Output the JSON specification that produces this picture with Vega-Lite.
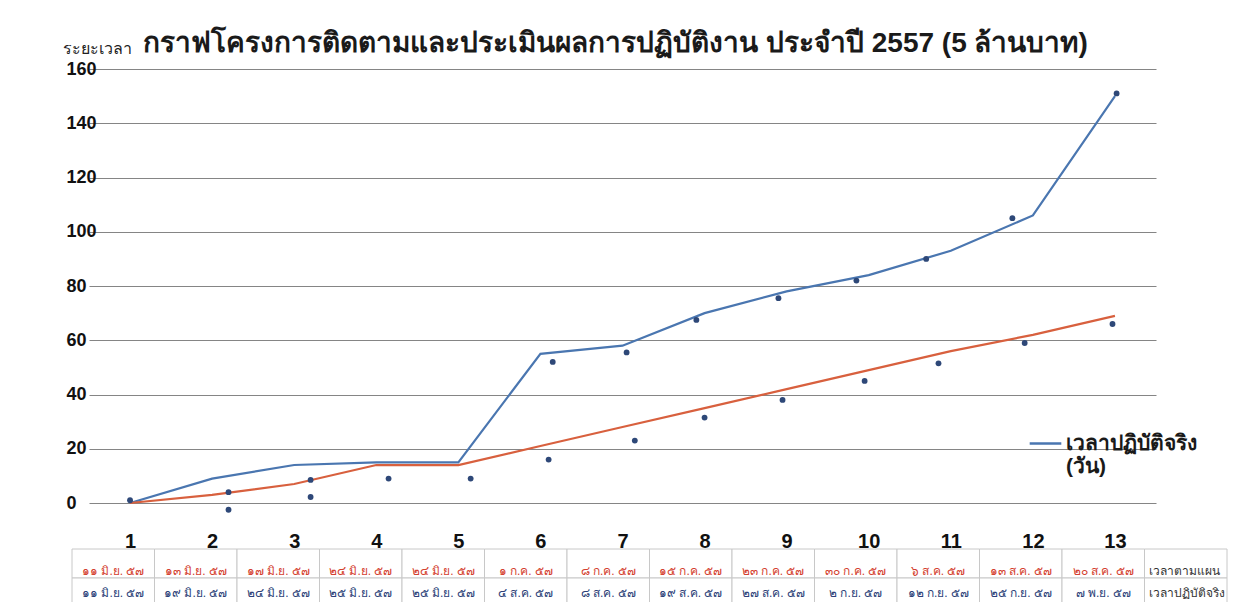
{
  "$schema": "https://vega.github.io/schema/vega-lite/v6.json",
  "padding": {"left": 62, "top": 30, "right": 0, "bottom": 0},
  "background": "white",
  "bounds": "flush",
  "spacing": 46,
  "config": {"view": {"stroke": null}, "font": "Liberation Sans"},
  "resolve": {"scale": {"color": "independent"}, "legend": {"color": "independent"}},
  "datasets": {
    "lines": [
      {"n": 1, "plan": 0, "actual": 0, "series": "เวลาปฏิบัติจริง"},
      {"n": 2, "plan": 3, "actual": 9, "series": "เวลาปฏิบัติจริง"},
      {"n": 3, "plan": 7, "actual": 14, "series": "เวลาปฏิบัติจริง"},
      {"n": 4, "plan": 14, "actual": 15, "series": "เวลาปฏิบัติจริง"},
      {"n": 5, "plan": 14, "actual": 15, "series": "เวลาปฏิบัติจริง"},
      {"n": 6, "plan": 21, "actual": 55, "series": "เวลาปฏิบัติจริง"},
      {"n": 7, "plan": 28, "actual": 58, "series": "เวลาปฏิบัติจริง"},
      {"n": 8, "plan": 35, "actual": 70, "series": "เวลาปฏิบัติจริง"},
      {"n": 9, "plan": 42, "actual": 78, "series": "เวลาปฏิบัติจริง"},
      {"n": 10, "plan": 49, "actual": 84, "series": "เวลาปฏิบัติจริง"},
      {"n": 11, "plan": 56, "actual": 93, "series": "เวลาปฏิบัติจริง"},
      {"n": 12, "plan": 62, "actual": 106, "series": "เวลาปฏิบัติจริง"},
      {"n": 13, "plan": 69, "actual": 150, "series": "เวลาปฏิบัติจริง"}
    ],
    "dots": [
      {"n": 1.0, "v": 1},
      {"n": 2.2, "v": 4}, {"n": 2.2, "v": -2.5},
      {"n": 3.2, "v": 8.5}, {"n": 3.2, "v": 2.2},
      {"n": 4.15, "v": 9},
      {"n": 5.15, "v": 9},
      {"n": 6.15, "v": 52}, {"n": 6.1, "v": 16},
      {"n": 7.05, "v": 55.5}, {"n": 7.15, "v": 23},
      {"n": 7.9, "v": 67.5}, {"n": 8.0, "v": 31.5},
      {"n": 8.9, "v": 75.5}, {"n": 8.95, "v": 38},
      {"n": 9.85, "v": 82}, {"n": 9.95, "v": 45},
      {"n": 10.7, "v": 90}, {"n": 10.85, "v": 51.5},
      {"n": 11.75, "v": 105}, {"n": 11.9, "v": 59},
      {"n": 13.02, "v": 151}, {"n": 12.97, "v": 66}
    ],
    "table": [
      {"col": 1, "row": "plan", "label": "๑๑ มิ.ย. ๕๗"},
      {"col": 2, "row": "plan", "label": "๑๓ มิ.ย. ๕๗"},
      {"col": 3, "row": "plan", "label": "๑๗ มิ.ย. ๕๗"},
      {"col": 4, "row": "plan", "label": "๒๔ มิ.ย. ๕๗"},
      {"col": 5, "row": "plan", "label": "๒๔ มิ.ย. ๕๗"},
      {"col": 6, "row": "plan", "label": "๑ ก.ค. ๕๗"},
      {"col": 7, "row": "plan", "label": "๘ ก.ค. ๕๗"},
      {"col": 8, "row": "plan", "label": "๑๕ ก.ค. ๕๗"},
      {"col": 9, "row": "plan", "label": "๒๓ ก.ค. ๕๗"},
      {"col": 10, "row": "plan", "label": "๓๐ ก.ค. ๕๗"},
      {"col": 11, "row": "plan", "label": "๖ ส.ค. ๕๗"},
      {"col": 12, "row": "plan", "label": "๑๓ ส.ค. ๕๗"},
      {"col": 13, "row": "plan", "label": "๒๐ ส.ค. ๕๗"},
      {"col": 14, "row": "plan", "label": "เวลาตามแผน"},
      {"col": 1, "row": "actual", "label": "๑๑ มิ.ย. ๕๗"},
      {"col": 2, "row": "actual", "label": "๑๙ มิ.ย. ๕๗"},
      {"col": 3, "row": "actual", "label": "๒๔ มิ.ย. ๕๗"},
      {"col": 4, "row": "actual", "label": "๒๕ มิ.ย. ๕๗"},
      {"col": 5, "row": "actual", "label": "๒๕ มิ.ย. ๕๗"},
      {"col": 6, "row": "actual", "label": "๔ ส.ค. ๕๗"},
      {"col": 7, "row": "actual", "label": "๘ ส.ค. ๕๗"},
      {"col": 8, "row": "actual", "label": "๑๙ ส.ค. ๕๗"},
      {"col": 9, "row": "actual", "label": "๒๗ ส.ค. ๕๗"},
      {"col": 10, "row": "actual", "label": "๒ ก.ย. ๕๗"},
      {"col": 11, "row": "actual", "label": "๑๒ ก.ย. ๕๗"},
      {"col": 12, "row": "actual", "label": "๒๕ ก.ย. ๕๗"},
      {"col": 13, "row": "actual", "label": "๗ พ.ย. ๕๗"},
      {"col": 14, "row": "actual", "label": "เวลาปฏิบัติจริง"}
    ]
  },
  "vconcat": [
    {
      "width": 1067,
      "height": 434,
      "title": {
        "text": "กราฟโครงการติดตามและประเมินผลการปฏิบัติงาน ประจำปี 2557 (5 ล้านบาท)",
        "frame": "group",
        "anchor": "middle",
        "dx": -7,
        "dy": 54,
        "baseline": "alphabetic",
        "offset": 14,
        "fontSize": 28,
        "fontWeight": "bold",
        "color": "#1a1a1a"
      },
      "layer": [
        {
          "data": {"name": "lines"},
          "mark": {"type": "line", "strokeWidth": 2.2},
          "encoding": {
            "x": {
              "field": "n", "type": "quantitative",
              "scale": {"domain": [0.5, 13.5], "nice": false, "zero": false},
              "axis": {
                "values": [1, 2, 3, 4, 5, 6, 7, 8, 9, 10, 11, 12, 13],
                "format": "d",
                "title": null, "grid": false, "domain": false, "ticks": false,
                "labelPadding": 28, "labelFontSize": 20, "labelFontWeight": "bold",
                "labelColor": "#111", "labelBaseline": "top"
              }
            },
            "y": {
              "field": "actual", "type": "quantitative",
              "scale": {"domain": [0, 160], "nice": false},
              "axis": {
                "values": [0, 20, 40, 60, 80, 100, 120, 140, 160],
                "grid": true, "gridColor": "#858585", "gridWidth": 1,
                "domain": false, "ticks": false,
                "labelAlign": "left", "labelPadding": 23, "labelFontSize": 18,
                "labelFontWeight": "bold", "labelColor": "#111",
                "title": "ระยะเวลา", "titleAngle": 0, "titleAlign": "left",
                "titleBaseline": "alphabetic", "titleX": -27, "titleY": -16,
                "titleFontSize": 16, "titleFontWeight": "normal", "titleColor": "#222"
              }
            },
            "color": {
              "field": "series", "type": "nominal",
              "scale": {"range": ["#4a76b0"]},
              "legend": {
                "orient": "none", "legendX": 939, "legendY": 357,
                "title": null, "symbolType": "stroke", "symbolSize": 1000,
                "symbolStrokeWidth": 2.5, "labelFontSize": 21, "labelFontWeight": "bold",
                "labelColor": "#1a1a1a", "labelLimit": 0, "padding": 0, "labelOffset": 3,
                "labelBaseline": "middle",
                "labelExpr": "['เวลาปฏิบัติจริง', '(วัน)']"
              }
            }
          }
        },
        {
          "data": {"name": "lines"},
          "mark": {"type": "line", "strokeWidth": 2.2, "color": "#d8603e"},
          "encoding": {
            "x": {"field": "n", "type": "quantitative"},
            "y": {"field": "plan", "type": "quantitative"}
          }
        },
        {
          "data": {"name": "dots"},
          "mark": {"type": "circle", "size": 34, "color": "#2e4878", "opacity": 1},
          "encoding": {
            "x": {"field": "n", "type": "quantitative"},
            "y": {"field": "v", "type": "quantitative"}
          }
        }
      ]
    },
    {
      "width": 1067,
      "height": 58,
      "data": {"name": "table"},
      "encoding": {
        "x": {
          "field": "col", "type": "ordinal",
          "scale": {"range": [-17, 1138], "paddingInner": 0, "paddingOuter": 0},
          "axis": null
        },
        "y": {
          "field": "row", "type": "nominal",
          "scale": {"domain": ["plan", "actual"], "paddingInner": 0, "paddingOuter": 0},
          "axis": null
        }
      },
      "layer": [
        {"mark": {"type": "rect", "fill": "white", "stroke": "#c8c8c8", "strokeWidth": 1}},
        {
          "transform": [{"filter": "datum.col <= 13 && datum.row == 'plan'"}],
          "mark": {"type": "text", "fontSize": 12, "color": "#d4412f", "dy": 7},
          "encoding": {"text": {"field": "label"}}
        },
        {
          "transform": [{"filter": "datum.col <= 13 && datum.row == 'actual'"}],
          "mark": {"type": "text", "fontSize": 12, "color": "#2c3f78"},
          "encoding": {"text": {"field": "label"}}
        },
        {
          "transform": [{"filter": "datum.col == 14 && datum.row == 'plan'"}],
          "mark": {"type": "text", "fontSize": 12, "color": "#333", "align": "left", "dx": -37, "dy": 7},
          "encoding": {"text": {"field": "label"}}
        },
        {
          "transform": [{"filter": "datum.col == 14 && datum.row == 'actual'"}],
          "mark": {"type": "text", "fontSize": 12, "color": "#333", "align": "left", "dx": -37},
          "encoding": {"text": {"field": "label"}}
        }
      ]
    }
  ]
}
